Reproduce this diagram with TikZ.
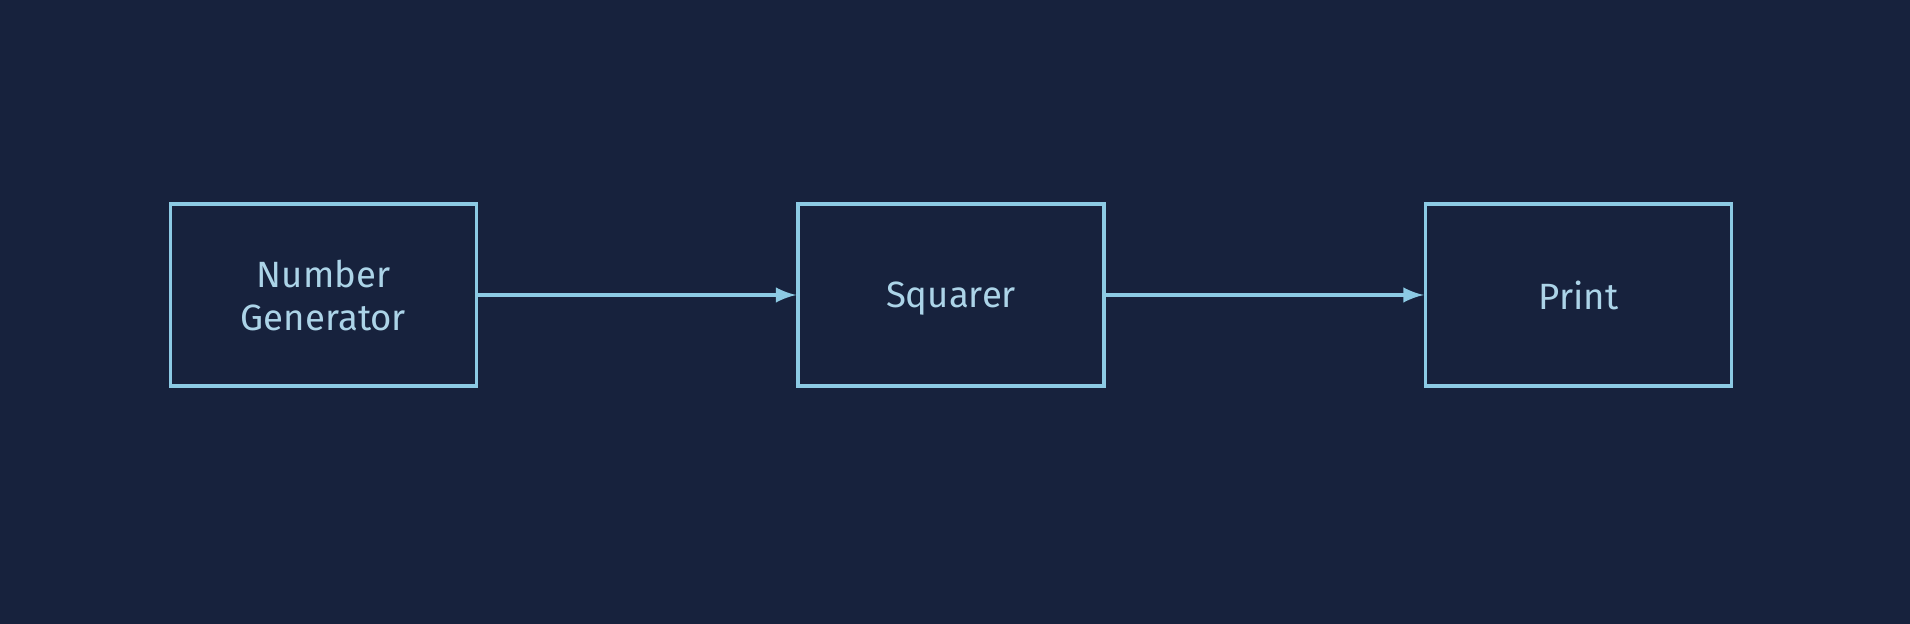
\documentclass[tikz,border=0pt]{standalone}
\usepackage{fontspec}
\setmainfont{Fira Sans}
\usetikzlibrary{arrows}
\definecolor{nightblue}{RGB}{23,34,61}
\definecolor{glowblue}{RGB}{140,202,228}
\definecolor{softblue}{RGB}{172,212,232}

\begin{document}
\begin{tikzpicture}
% Background panel
\fill[nightblue] (0,0) rectangle (19.10,6.24);
\useasboundingbox (0,0) rectangle (19.10,6.24);

% Pipeline stages
\tikzset{stagebox/.style={rectangle, draw=glowblue, line width=1pt, minimum width=3.06cm, minimum height=1.82cm, inner sep=0pt, align=center, text depth=0pt, text=softblue, font=\fontsize{10.4}{12.3}\selectfont}}
\node[stagebox] (gen) at (3.235,3.29) {Number\\Generator};
\node[stagebox] (sq) at (9.51,3.29) {Squarer};
\node[stagebox] (prt) at (15.785,3.29) {Print};

% Data flow
\draw[-latex, glowblue, line width=1pt] (gen) -- (sq);
\draw[-latex, glowblue, line width=1pt] (sq) -- (prt);
\end{tikzpicture}
\end{document}
